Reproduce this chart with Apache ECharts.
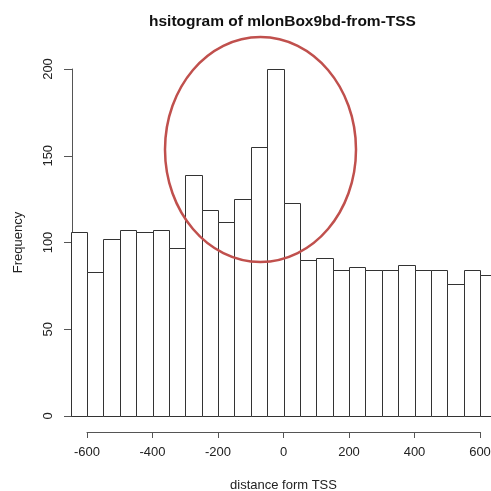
<!DOCTYPE html>
<html>
<head>
<meta charset="utf-8">
<script src="https://cdn.jsdelivr.net/npm/echarts@6/dist/echarts.min.js"></script>
<style>
html,body{margin:0;padding:0;background:#fff;overflow:hidden;}
#chart{width:491px;height:491px;}
</style>
</head>
<body>
<div id="chart"></div>
<script>
// Histogram bins (left / right edges) and counts
var binLeft  = [-650,-600,-550,-500,-450,-400,-350,-300,-250,-200,-150,-100,-50,0,50,100,150,200,250,300,350,400,450,500,550,600];
var binRight = [-600,-550,-500,-450,-400,-350,-300,-250,-200,-150,-100,-50,0,50,100,150,200,250,300,350,400,450,500,550,600,650];
var counts   = [106,83,102,107,106,107,97,139,119,112,125,155,200,123,90,91,84,86,84,84,87,84,84,76,84,81];
var xTicks = [-600,-400,-200,0,200,400,600];
var yTicks = [0,50,100,150,200];
var titleText = 'hsitogram of mlonBox9bd-from-TSS';
var xName = 'distance form TSS';
var yName = 'Frequency';

var data = binLeft.map(function(l,i){ return [l, binRight[i], counts[i]]; });

var font = 'Liberation Sans, Arial, Helvetica, sans-serif';
var chart = echarts.init(document.getElementById('chart'), null, {renderer:'canvas', width:491, height:491});
chart.setOption({
  animation:false,
  backgroundColor:'#ffffff',
  title:{
    text:titleText,
    left:149, top:14, padding:0,
    textStyle:{fontFamily:font, fontSize:15.5, fontWeight:'bold', color:'#111'}
  },
  grid:{left:87, right:11, top:69, bottom:75, containLabel:false, outerBoundsMode:'none'},
  xAxis:{
    type:'value', min:xTicks[0], max:xTicks[xTicks.length-1], interval:200,
    offset:16,
    axisLine:{show:true, onZero:false, lineStyle:{color:'#555', width:1}},
    axisTick:{show:true, length:6, lineStyle:{color:'#555'}},
    axisLabel:{margin:14, fontFamily:font, fontSize:13, color:'#222', showMinLabel:true, showMaxLabel:true},
    splitLine:{show:false},
    name:xName, nameLocation:'middle', nameGap:47,
    nameTextStyle:{fontFamily:font, fontSize:13, color:'#222'}
  },
  yAxis:{
    type:'value', min:yTicks[0], max:yTicks[yTicks.length-1], interval:50,
    offset:15,
    axisLine:{show:true, onZero:false, lineStyle:{color:'#555', width:1}},
    axisTick:{show:true, length:8, lineStyle:{color:'#555'}},
    axisLabel:{rotate:90, margin:17, fontFamily:font, fontSize:13, color:'#222'},
    splitLine:{show:false},
    name:yName, nameLocation:'middle', nameGap:47,
    nameTextStyle:{fontFamily:font, fontSize:13, color:'#222'}
  },
  graphic:[{
    type:'ellipse',
    shape:{cx:260.5, cy:149.5, rx:95.5, ry:112.5},
    style:{fill:'none', stroke:'#c0504d', lineWidth:2.5},
    z:100
  }],
  series:[{
    type:'custom',
    clip:false,
    data:data,
    encode:{x:[0,1], y:2},
    renderItem:function(params, api){
      var p0 = api.coord([api.value(0), 0]);
      var p1 = api.coord([api.value(1), api.value(2)]);
      var x0 = Math.round(p0[0]) + 0.5, x1 = Math.round(p1[0]) + 0.5;
      var y0 = Math.round(p0[1]) + 0.5, y1 = Math.round(p1[1]) + 0.5;
      return {
        type:'rect',
        shape:{x:x0, y:y1, width:x1-x0, height:y0-y1},
        style:{fill:'#ffffff', stroke:'#333', lineWidth:1}
      };
    }
  }]
});
</script>
</body>
</html>
